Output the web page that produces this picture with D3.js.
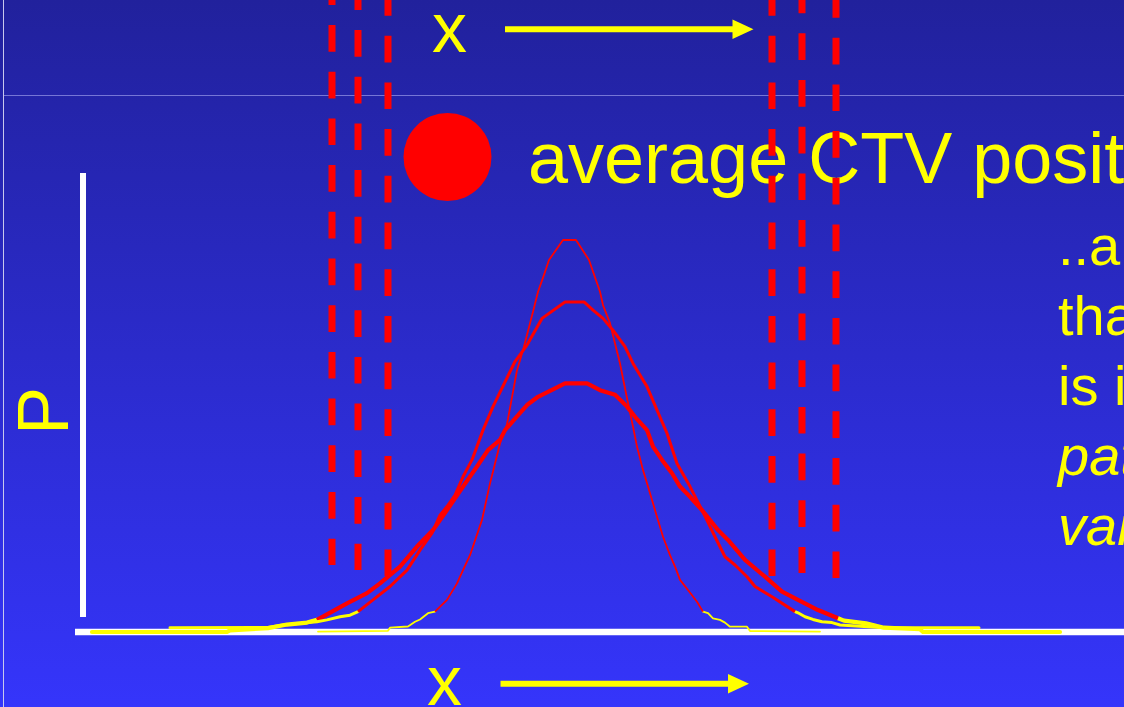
<!DOCTYPE html>
<html>
<head>
<meta charset="utf-8">
<script src="https://cdn.jsdelivr.net/npm/d3@7"></script>
<style>
  html, body { margin: 0; padding: 0; overflow: hidden; background: #2a2ac8; }
  svg { display: block; }
</style>
</head>
<body>
<div id="drawArea"></div>
<script>
// positions along x in mm-like units (0 = mean), P normalised to the narrow peak
var narrowCurve = [
  [-25.2, 0.001], [-18.2, 0.003], [-18.0, 0.011], [-16.2, 0.014], [-15.5, 0.026],
  [-15.0, 0.032], [-14.2, 0.048], [-13.5, 0.052], [-12.3, 0.082], [-11.3, 0.124],
  [-10.7, 0.158], [-10.0, 0.196], [-8.8, 0.286], [-8.0, 0.379], [-7.5, 0.430],
  [-7.0, 0.481], [-6.3, 0.530], [-5.3, 0.668], [-4.7, 0.719], [-3.7, 0.817],
  [-3.2, 0.868], [-2.6, 0.911], [-2.1, 0.949], [-0.7, 1.000], [0.6, 1.000],
  [1.9, 0.949], [3.0, 0.868], [3.3, 0.834], [4.0, 0.788], [4.5, 0.736],
  [5.0, 0.685], [5.6, 0.609], [6.3, 0.524], [6.7, 0.473], [7.3, 0.413],
  [8.0, 0.354], [8.7, 0.294], [9.3, 0.243], [10.0, 0.196], [10.5, 0.167],
  [11.0, 0.133], [11.8, 0.107], [12.7, 0.077], [13.3, 0.052], [13.8, 0.048],
  [14.3, 0.035], [15.0, 0.031], [15.5, 0.024], [16.0, 0.0135], [17.7, 0.0135],
  [18.0, 0.0025], [25.0, 0.001]
];

var middleCurve = [
  [-40.0, 0.011], [-30.2, 0.0115], [-28.7, 0.018], [-27.0, 0.022], [-25.3, 0.026],
  [-24.3, 0.031], [-23.0, 0.039], [-22.0, 0.043], [-21.2, 0.052], [-19.7, 0.082],
  [-18.0, 0.116], [-16.3, 0.158], [-15.0, 0.209], [-13.8, 0.252], [-13.0, 0.298],
  [-12.3, 0.320], [-11.5, 0.349], [-10.7, 0.396], [-9.8, 0.439], [-8.7, 0.515],
  [-7.7, 0.575], [-6.8, 0.622], [-5.5, 0.690], [-4.3, 0.732], [-2.8, 0.800],
  [-0.5, 0.842], [1.4, 0.842], [2.3, 0.821], [3.3, 0.800], [4.3, 0.770],
  [5.5, 0.728], [6.3, 0.685], [7.7, 0.626], [8.7, 0.566], [9.7, 0.507],
  [10.7, 0.430], [12.0, 0.371], [13.2, 0.311], [14.5, 0.243], [15.5, 0.192],
  [16.5, 0.171], [17.7, 0.141], [18.5, 0.116], [20.2, 0.090], [22.5, 0.052],
  [22.8, 0.049], [23.5, 0.039], [24.3, 0.032], [25.2, 0.026], [26.2, 0.024],
  [27.0, 0.018], [31.4, 0.011], [40.9, 0.011]
];

var wideCurve = [
  [-47.8, 0.000], [-34.3, 0.000], [-34.0, 0.004], [-30.2, 0.010], [-28.3, 0.019],
  [-26.3, 0.024], [-25.3, 0.031], [-22.3, 0.073], [-20.3, 0.099], [-19.0, 0.124],
  [-17.0, 0.167], [-15.3, 0.218], [-13.7, 0.260], [-12.3, 0.311], [-10.7, 0.371],
  [-9.3, 0.422], [-8.2, 0.464], [-7.0, 0.490], [-6.5, 0.515], [-5.3, 0.550],
  [-4.3, 0.579], [-3.2, 0.600], [-0.5, 0.634], [1.7, 0.634], [3.0, 0.617],
  [4.5, 0.605], [5.7, 0.575], [6.5, 0.549], [7.7, 0.515], [8.3, 0.473],
  [9.2, 0.439], [10.2, 0.405], [11.0, 0.371], [12.0, 0.345], [13.2, 0.311],
  [14.8, 0.260], [15.8, 0.235], [17.5, 0.184], [19.5, 0.141], [21.2, 0.103],
  [22.8, 0.082], [24.8, 0.056], [26.8, 0.035], [27.4, 0.029], [29.6, 0.022],
  [31.4, 0.011], [35.0, 0.007], [35.3, 0.000], [49.0, 0.000]
];

// where each curve turns from red to yellow
var coreLimits = [[-13.5, 13.3], [-21.2, 22.5], [-25.3, 26.8]];

// dashed CTV boundary positions
var boundaryX = [-23.8, -21.2, -18.2, 20.2, 23.2, 26.6];

var sideText = ['..and', 'that', 'is in', 'patient', 'variation'];
var sideItalic = [false, false, false, true, true];

var W = 1124, H = 707;
var curveWidths = [1.8, 3, 4.2];
var dashEnds = [565, 570, 576, 576, 573, 578];
var dashOffsets = [21.7, 16.7, 11, 11, 13.4, 9];
var fontFamily = 'Arial, "Liberation Sans", Helvetica, sans-serif';

var svg = d3.select('#drawArea').append('svg')
  .attr('width', W)
  .attr('height', H);

var defs = svg.append('defs');
var grad = defs.append('linearGradient')
  .attr('id', 'bg')
  .attr('x1', 0).attr('y1', 0).attr('x2', 0).attr('y2', 1);
grad.append('stop').attr('offset', '0%').attr('stop-color', '#21219c');
grad.append('stop').attr('offset', '100%').attr('stop-color', '#3535fb');

svg.append('rect')
  .attr('width', W).attr('height', H)
  .attr('fill', 'url(#bg)');

// title band separator + slide edge
svg.append('line')
  .attr('x1', 3).attr('x2', W).attr('y1', 95.5).attr('y2', 95.5)
  .attr('stroke', '#7676d6').attr('stroke-width', 1);
svg.append('line')
  .attr('x1', 3.5).attr('x2', 3.5).attr('y1', 0).attr('y2', H)
  .attr('stroke', '#c8c8ec').attr('stroke-width', 1);

var x = d3.scaleLinear().domain([-49.5, 55.4]).range([75, 1124]);
var y = d3.scaleLinear().domain([0, 1]).range([632, 240]);

// arrows with x labels, top and bottom
function drawArrow(x0, x1, yy) {
  svg.append('line')
    .attr('x1', x0).attr('x2', x1 - 18).attr('y1', yy).attr('y2', yy)
    .attr('stroke', '#ffff00').attr('stroke-width', 6);
  svg.append('path')
    .attr('d', 'M' + (x1 - 21) + ',' + (yy - 9.7) + 'L' + x1 + ',' + yy + 'L' + (x1 - 21) + ',' + (yy + 9.7) + 'Z')
    .attr('fill', '#ffff00');
}
svg.append('text')
  .attr('x', 432).attr('y', 51.5)
  .attr('font-family', fontFamily).attr('font-size', 70)
  .attr('fill', '#ffff00')
  .text('x');
drawArrow(505, 753.5, 29.3);

svg.append('text')
  .attr('x', 427).attr('y', 705)
  .attr('font-family', fontFamily).attr('font-size', 70)
  .attr('fill', '#ffff00')
  .text('x');
drawArrow(500.5, 749, 683.7);

// legend
svg.append('circle')
  .attr('cx', 447.5).attr('cy', 157).attr('r', 44)
  .attr('fill', '#ff0000');
svg.append('text')
  .attr('x', 528).attr('y', 183)
  .attr('font-family', fontFamily).attr('font-size', 72)
  .attr('fill', '#ffff00')
  .text('average CTV position');

svg.selectAll('.side')
  .data(sideText)
  .enter().append('text')
    .attr('class', 'side')
    .attr('x', 1058)
    .attr('y', function(d, i) { return 265 + i * 70; })
    .attr('font-family', fontFamily).attr('font-size', 56)
    .attr('font-style', function(d, i) { return sideItalic[i] ? 'italic' : 'normal'; })
    .attr('fill', '#ffff00')
    .text(function(d) { return d; });

// dashed boundaries
svg.selectAll('.bound')
  .data(boundaryX)
  .enter().append('line')
    .attr('class', 'bound')
    .attr('x1', function(d) { return x(d); })
    .attr('x2', function(d) { return x(d); })
    .attr('y1', 0)
    .attr('y2', function(d, i) { return dashEnds[i]; })
    .attr('stroke', '#ff0000')
    .attr('stroke-width', 7)
    .attr('stroke-dasharray', '26.7,20')
    .attr('stroke-dashoffset', function(d, i) { return dashOffsets[i]; });

// axes
svg.append('line')
  .attr('x1', 83).attr('x2', 83).attr('y1', y(1.171)).attr('y2', 617)
  .attr('stroke', '#ffffff').attr('stroke-width', 6);
svg.append('line')
  .attr('x1', x(-49.5)).attr('x2', x(55.4)).attr('y1', y(0)).attr('y2', y(0))
  .attr('stroke', '#ffffff').attr('stroke-width', 6.5);

svg.append('text')
  .attr('transform', 'translate(68,411) rotate(-90)')
  .attr('text-anchor', 'middle')
  .attr('font-family', fontFamily).attr('font-size', 72)
  .attr('fill', '#ffff00')
  .text('P');

// curves: red core, yellow tails
var line = d3.line()
  .x(function(d) { return x(d[0]); })
  .y(function(d) { return y(d[1]); });

var curves = [narrowCurve, middleCurve, wideCurve];
var order = [2, 1, 0];

order.forEach(function(c) {
  var pts = curves[c];
  var lo = coreLimits[c][0], hi = coreLimits[c][1];
  var left = pts.filter(function(d) { return d[0] <= lo; });
  var core = pts.filter(function(d) { return d[0] >= lo && d[0] <= hi; });
  var right = pts.filter(function(d) { return d[0] >= hi; });

  [left, right].forEach(function(seg) {
    svg.append('path')
      .datum(seg)
      .attr('d', line)
      .attr('fill', 'none')
      .attr('stroke', '#ffff00')
      .attr('stroke-width', curveWidths[c])
      .attr('stroke-linecap', 'round')
      .attr('stroke-linejoin', 'round');
  });

  svg.append('path')
    .datum(core)
    .attr('d', line)
    .attr('fill', 'none')
    .attr('stroke', '#ff0000')
    .attr('stroke-width', curveWidths[c])
    .attr('stroke-linejoin', 'round');
});
</script>
</body>
</html>
